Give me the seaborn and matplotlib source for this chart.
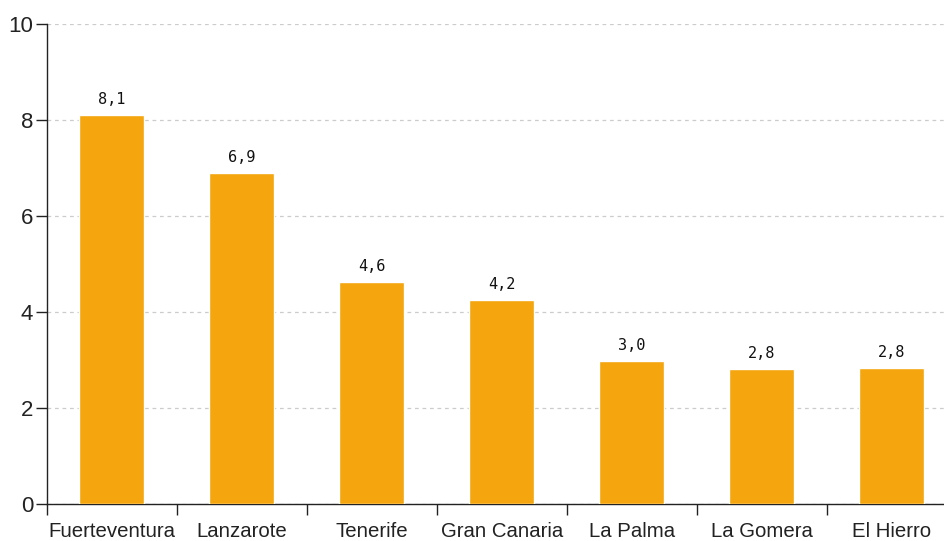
import pandas as pd
import seaborn as sns
import matplotlib
matplotlib.use('Agg')
import matplotlib.pyplot as plt

# data
islands = ['Fuerteventura', 'Lanzarote', 'Tenerife', 'Gran Canaria', 'La Palma', 'La Gomera', 'El Hierro']
values = [8.1, 6.9, 4.63, 4.24, 2.98, 2.81, 2.83]
y_ticks = [0, 2, 4, 6, 8, 10]

df = pd.DataFrame({'island': islands, 'value': values})

sns.set_theme(style='white')
plt.rcParams['font.family'] = ['Liberation Sans', 'DejaVu Sans']

fig = plt.figure(figsize=(9.45, 5.41), dpi=100)
# axes extends a little past the right edge, as in the reference
ax = fig.add_axes([47 / 945, 37 / 541, 910 / 945, 480 / 541])

sns.barplot(data=df, x='island', y='value', color='#F5A50D', saturation=1,
            width=0.5, ax=ax, zorder=3)

# value labels with comma decimal
for i, v in enumerate(values):
    ax.text(i, v + 0.17, f"{v:.1f}".replace('.', ','), ha='center', va='bottom',
            fontsize=11, family='DejaVu Sans Mono', color='#111111')

ax.set_xlim(-0.5, 6.5)
ax.set_ylim(0, 10)
ax.set_yticks(y_ticks)
ax.set_yticklabels([str(t) for t in y_ticks])
ax.yaxis.grid(True, linestyle=(0, (3, 3)), color='#cccccc', linewidth=0.9, zorder=0)

# category boundaries as major ticks, names as minor tick labels
ax.set_xticks([i - 0.5 for i in range(len(islands) + 1)])
ax.set_xticklabels([])
ax.set_xticks(range(len(islands)), minor=True)
ax.set_xticklabels(islands, minor=True)
ax.tick_params(axis='x', which='major', bottom=True, length=8, width=1,
               color='#222222', direction='out')
ax.tick_params(axis='x', which='minor', bottom=True, length=0, pad=13,
               labelsize=14.7, labelcolor='#222222')
ax.tick_params(axis='y', left=True, length=8, width=1, color='#222222', direction='out',
               pad=2, labelsize=16, labelcolor='#222222')

ax.set_xlabel('')
ax.set_ylabel('')
for s in ['top', 'right']:
    ax.spines[s].set_visible(False)
for s in ['left', 'bottom']:
    ax.spines[s].set_color('#222222')
    ax.spines[s].set_linewidth(1)

fig.savefig('out.png', dpi=100)
plt.close(fig)
